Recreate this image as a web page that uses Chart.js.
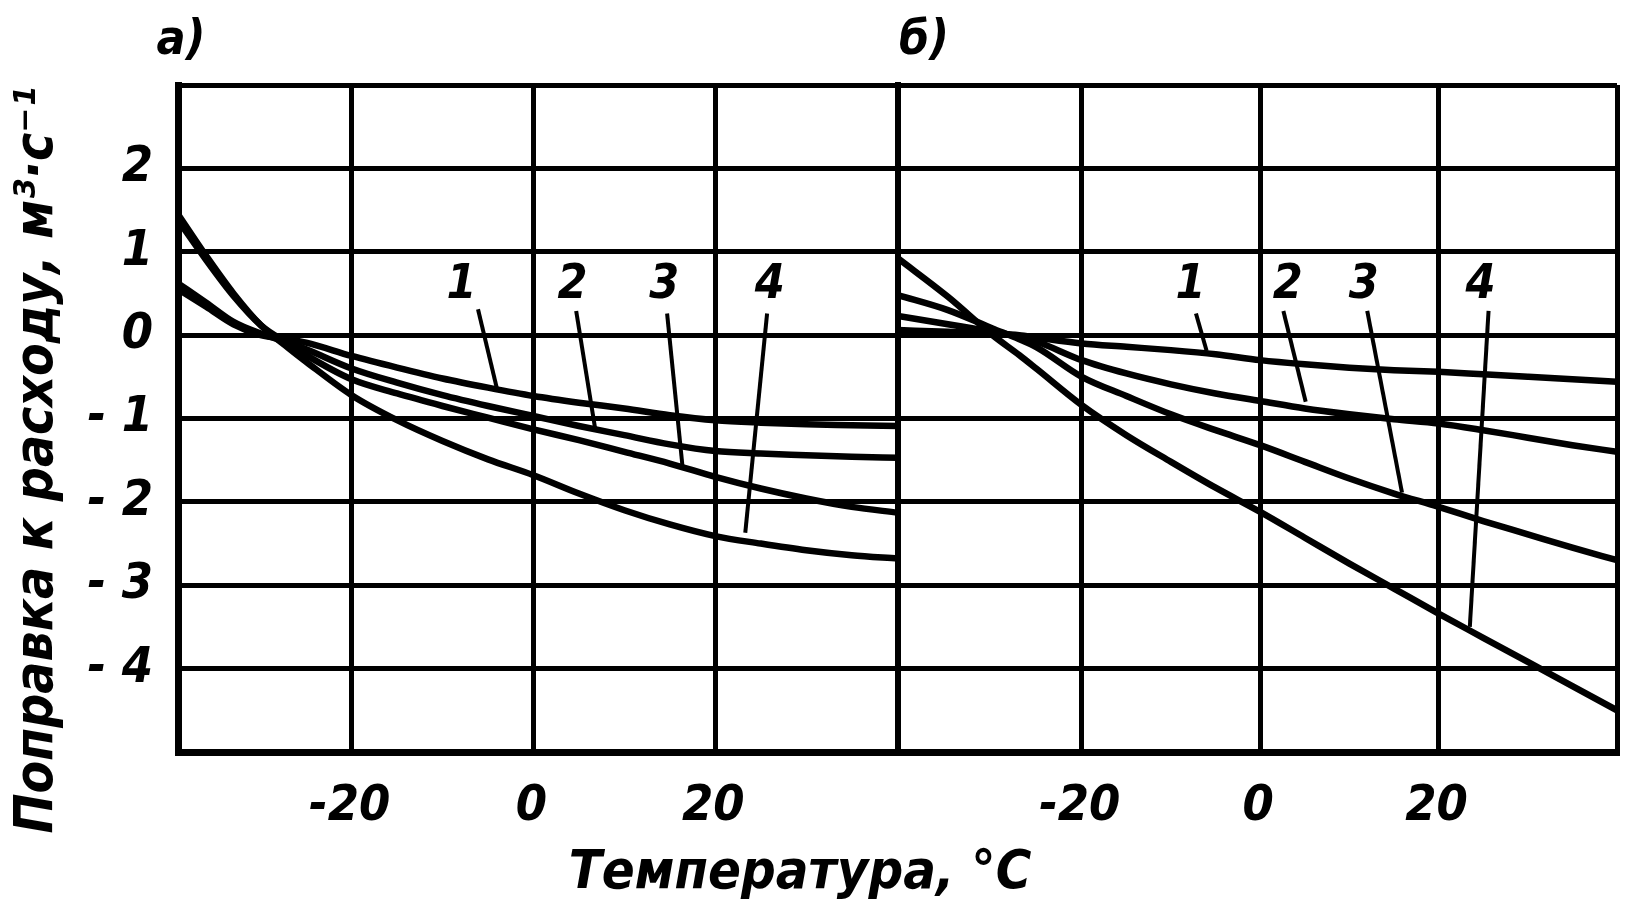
<!DOCTYPE html>
<html><head><meta charset="utf-8">
<script src="https://cdn.jsdelivr.net/npm/chart.js@4.4.1/dist/chart.umd.min.js"></script>
<style>
html,body{margin:0;padding:0;background:#fff;}
#wrap{position:relative;width:1642px;height:912px;overflow:hidden;background:#fff;}
canvas{position:absolute;left:0;top:0;}
</style></head><body>
<div id="wrap"><canvas id="ca" width="1642" height="912"></canvas><canvas id="cb" width="1642" height="912"></canvas></div>
<script>
// ---------- data ----------
// panel а)
const tempA  = [-39.1, -36, -33, -30, -27, -25, -20, -15, -10, -5, 0, 5, 10, 15, 20, 25, 30, 35, 40.1];
const corrA1 = [0.55, 0.34, 0.13, 0.0, -0.05, -0.09, -0.25, -0.39, -0.52, -0.63, -0.73, -0.81, -0.88, -0.96, -1.02, -1.05, -1.07, -1.08, -1.09];
const corrA2 = [0.62, 0.39, 0.16, 0.02, -0.09, -0.17, -0.40, -0.57, -0.72, -0.85, -0.97, -1.09, -1.20, -1.31, -1.39, -1.42, -1.44, -1.46, -1.47];
const corrA3 = [1.38, 0.90, 0.47, 0.12, -0.10, -0.24, -0.53, -0.70, -0.85, -0.99, -1.13, -1.26, -1.40, -1.54, -1.70, -1.84, -1.96, -2.06, -2.13];
const corrA4 = [1.45, 0.95, 0.50, 0.12, -0.15, -0.32, -0.72, -1.02, -1.27, -1.49, -1.68, -1.90, -2.10, -2.27, -2.41, -2.50, -2.58, -2.64, -2.68];
// panel б)
const tempB  = [-40.6, -35, -30, -27, -25, -20, -15, -10, -5, 0, 5, 10, 15, 20, 25, 30, 35, 40];
const corrB1 = [0.06, 0.04, 0.02, 0.0, -0.03, -0.10, -0.14, -0.18, -0.23, -0.30, -0.35, -0.39, -0.42, -0.44, -0.47, -0.50, -0.53, -0.56];
const corrB2 = [0.23, 0.13, 0.04, -0.02, -0.08, -0.30, -0.46, -0.59, -0.70, -0.79, -0.88, -0.95, -1.01, -1.06, -1.14, -1.23, -1.32, -1.40];
const corrB3 = [0.48, 0.30, 0.08, -0.05, -0.15, -0.50, -0.73, -0.95, -1.14, -1.32, -1.52, -1.72, -1.90, -2.06, -2.23, -2.39, -2.55, -2.70];
const corrB4 = [0.92, 0.46, 0.00, -0.24, -0.41, -0.84, -1.20, -1.52, -1.83, -2.12, -2.43, -2.74, -3.04, -3.34, -3.63, -3.92, -4.21, -4.50];
// axis ranges and ticks
const xRangeA = [-39.1, 40.1];
const xRangeB = [-40.6, 40];
const yRange  = [-5, 3];
const yGridValues = [3, 2, 1, 0, -1, -2, -3, -4, -5];
const yTickValues = [2, 1, 0, -1, -2, -3, -4];
const yTickLabels = ['2', '1', '0', '- 1', '- 2', '- 3', '- 4'];
const xTickValues = [-20, 0, 20];
const xTickLabels = ['-20', '0', '20'];
// curve numbers and their leader lines (data coordinates: x1, y1, x2, y2)
const curveNames = ['1', '2', '3', '4'];
const nameAtA = [[-7.9, 0.6], [4.3, 0.6], [14.4, 0.6], [26.0, 0.6]];
const leaderA = [[-6.1, 0.31, -4.0, -0.65], [4.7, 0.29, 6.8, -1.13], [14.7, 0.26, 16.4, -1.58], [25.7, 0.26, 23.3, -2.37]];
const nameAtB = [[-7.8, 0.6], [3.1, 0.6], [11.6, 0.6], [24.7, 0.6]];
const leaderB = [[-7.2, 0.26, -6.0, -0.19], [2.6, 0.29, 5.1, -0.80], [12.0, 0.29, 15.9, -1.89], [25.6, 0.29, 23.5, -3.50]];
// texts
const yTitle = 'Поправка к расходу, м³·с⁻¹';
const xTitle = 'Температура, °С';
const panelA = 'а)';
const panelB = 'б)';

// ---------- drawing ----------
const FAM = "'Liberation Sans Narrow','DejaVu Sans Condensed','Liberation Sans',sans-serif";
const tickFont = {family: FAM, size: 50, weight: 'bold', style: 'italic', lineHeight: 1.2};

function pts(xs, ys) { return xs.map((x, i) => ({x: x, y: ys[i]})); }
function curveSet(data) {
  return {data: data, borderColor: '#000', borderWidth: 6.5, pointRadius: 0,
          cubicInterpolationMode: 'monotone', fill: false};
}
function leaderSet(l) {
  return {data: [{x: l[0], y: l[1]}, {x: l[2], y: l[3]}], borderColor: '#000',
          borderWidth: 4, pointRadius: 0, tension: 0, fill: false};
}
function xLabel(v) { const i = xTickValues.indexOf(v); return i >= 0 ? xTickLabels[i] : ''; }
function yLabel(v) { const i = yTickValues.indexOf(v); return i >= 0 ? yTickLabels[i] : ''; }

const freeText = {
  id: 'freeText',
  afterDraw(chart, args, opts) {
    const ctx = chart.ctx;
    (opts.items || []).forEach(it => {
      ctx.save();
      ctx.fillStyle = '#000';
      ctx.font = it.font;
      ctx.textAlign = 'center';
      ctx.textBaseline = 'middle';
      let x = it.x, y = it.y;
      if (it.data) { x = chart.scales.x.getPixelForValue(it.x); y = chart.scales.y.getPixelForValue(it.y); }
      ctx.translate(x, y);
      if (it.rot) ctx.rotate(it.rot);
      ctx.fillText(it.text, 0, 0);
      ctx.restore();
    });
  }
};

function gridOpts() {
  return {color: '#000', lineWidth: 5, drawTicks: false};
}

function makeChart(id, temps, series, leaders, nameAt, xr, pad, isFirst, extraText) {
  const datasets = series.map(s => curveSet(pts(temps, s))).concat(leaders.map(leaderSet));
  const items = curveNames.map((n, i) => ({text: n, x: nameAt[i][0], y: nameAt[i][1], data: true,
                font: 'italic bold 48px ' + FAM})).concat(extraText);
  return new Chart(document.getElementById(id), {
    type: 'line',
    data: {datasets: datasets},
    plugins: [freeText],
    options: {
      responsive: false, animation: false, devicePixelRatio: 1,
      layout: {padding: pad},
      plugins: {legend: {display: false}, tooltip: {enabled: false}, freeText: {items: items}},
      scales: {
        x: {
          type: 'linear', min: xr[0], max: xr[1],
          afterBuildTicks: s => { s.ticks = [xr[0]].concat(xTickValues, [xr[1]]).map(v => ({value: v})); },
          afterFit: s => { s.height = 160; },
          ticks: {callback: v => xLabel(v), font: tickFont, color: '#000', padding: 25,
                  maxRotation: 0, autoSkip: false, labelOffset: -2},
          grid: gridOpts(),
          border: {display: true, color: '#000', width: 7}
        },
        y: {
          type: 'linear', min: yRange[0], max: yRange[1],
          afterBuildTicks: s => { s.ticks = yGridValues.map(v => ({value: v})); },
          afterFit: s => { s.width = isFirst ? 178 : 0; },
          ticks: {display: isFirst, callback: v => yLabel(v), font: tickFont, color: '#000', padding: 25},
          grid: gridOpts(),
          border: {display: true, color: '#000', width: isFirst ? 7 : 6}
        }
      }
    }
  });
}

makeChart('ca', tempA, [corrA1, corrA2, corrA3, corrA4], leaderA, nameAtA, xRangeA,
  {left: 0, right: 744, top: 85, bottom: 0}, true,
  [{text: panelA, x: 181, y: 42, font: 'italic bold 48px ' + FAM},
   {text: yTitle, x: 38, y: 460, rot: -Math.PI / 2, font: 'italic bold 53px ' + FAM},
   {text: xTitle, x: 800, y: 874, font: 'italic bold 54px ' + FAM}]);
makeChart('cb', tempB, [corrB1, corrB2, corrB3, corrB4], leaderB, nameAtB, xRangeB,
  {left: 898, right: 9, top: 85, bottom: 0}, false,
  [{text: panelB, x: 924, y: 42, font: 'italic bold 48px ' + FAM}]);
</script>
</body></html>
